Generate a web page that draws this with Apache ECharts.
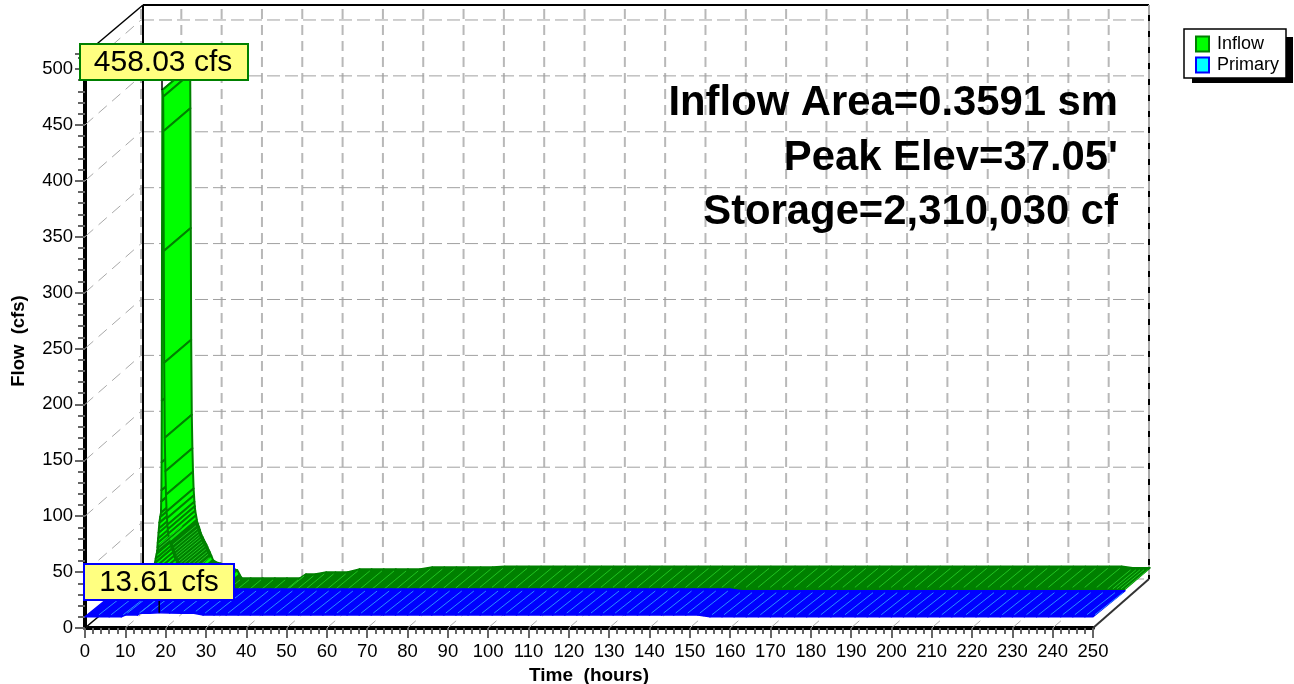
<!DOCTYPE html>
<html><head><meta charset="utf-8">
<style>html,body{margin:0;padding:0;background:#fff}#c{width:1294px;height:684px}</style>
<script src="https://cdn.jsdelivr.net/npm/echarts@6/dist/echarts.min.js"></script>
</head><body><div id="c"></div>
<script>
const xTicks=[0,10,20,30,40,50,60,70,80,90,100,110,120,130,140,150,160,170,180,190,200,210,220,230,240,250];
const yTicks=[0,50,100,150,200,250,300,350,400,450,500];
const inflowT=[0,4,8,8.6,9,9.3,9.6,9.9,10.1,10.3,10.4,10.5,10.6,10.7,10.8,10.9,11.0,11.2,11.4,11.45,11.5,11.55,11.6,11.66,11.75,11.95,
 12.0,12.1,12.2,12.35,12.5,12.65,12.8,12.9,13.0,13.1,13.2,13.4,13.6,
 13.9,14.2,14.4,14.6,14.8,15.1,15.4,15.7,16.0,16.3,16.6,16.9,17.2,17.6,
 18.5,19.5,20.5,21.5,22.5,23.6,24.2,
 24.8,27,30,33,36,39.2,
 40.7,43,
 45.7,48,51,
 54,57,60,63,66,69,
 72,75,78,81,84,87,
 90,93,96,99,102,105,108,111,114,117,
 120,123,126,129,132,135,138,141,144,147,
 150,153,156,159,162,165,168,171,174,177,
 180,183,186,189,192,195,198,201,204,207,
 210,213,216,219,222,225,228,231,234,237,
 240,243,
 245.7,247,248,249,250];
const inflowQ=[0,1,8,14,20,25,30,35,39,43,46,49,53,57,62,66,71,76,80,90,100,125,180,320,458.03,452,
 421,314,214,147,117,96,81,75,69,65,61,57,53,
 49.5,46.5,44,41.5,39.5,37.5,35,33,31,28.5,26,24,21,17,
 15,14,13,12,10,8,4,
 1,1,1,1,1,1,
 4.5,4.5,
 6.3,6.3,6.3,
 9,9,9,9,9,9,
 10.7,10.7,10.7,10.7,10.7,10.7,
 11.3,11.3,11.3,11.3,11.3,11.3,11.3,11.3,11.3,11.3,
 11.3,11.3,11.3,11.3,11.3,11.3,11.3,11.3,11.3,11.3,
 11.3,11.3,11.3,11.3,11.3,11.3,11.3,11.3,11.3,11.3,
 11.3,11.3,11.3,11.3,11.3,11.3,11.3,11.3,11.3,11.3,
 11.3,11.3,11.3,11.3,11.3,11.3,11.3,11.3,11.3,11.3,
 11.3,11.3,
 10,10,10,10,10];
const primaryT=[0,3,6,9,10,13,13.6,16,18.4,21,24,27,29.3,
 32,35,38,41,44,47,50,53,56,59,
 62,65,68,71,74,77,80,83,86,89,
 92,95,98,101,104,107,110,113,116,119,
 122,125,128,131,134,137,140,143,146,149,
 152,
 155,158,161,164,167,170,173,176,179,182,
 185,188,191,194,197,200,203,206,209,212,
 215,218,221,224,227,230,233,236,239,242,
 245,248,250];
const primaryQ=[10.1,10.1,10.1,10.1,11.6,11.6,13.15,13.3,13.61,13.4,13.3,13.2,11.6,
 11.6,11.6,11.6,11.6,11.6,11.6,11.6,11.6,11.6,11.6,
 11.6,11.6,11.6,11.6,11.6,11.6,11.6,11.6,11.6,11.6,
 11.6,11.6,11.6,11.6,11.6,11.6,11.6,11.6,11.6,11.6,
 11.6,11.6,11.6,11.6,11.6,11.6,11.6,11.6,11.6,11.6,
 11.6,
 10.1,10.1,10.1,10.1,10.1,10.1,10.1,10.1,10.1,10.1,
 10.1,10.1,10.1,10.1,10.1,10.1,10.1,10.1,10.1,10.1,
 10.1,10.1,10.1,10.1,10.1,10.1,10.1,10.1,10.1,10.1,
 10.1,10.1,10.1];
const peakInflow=[11.66,458.03], peakPrimary=[18.4,13.61];
const notes=["Inflow Area=0.3591 sm","Peak Elev=37.05'","Storage=2,310,030 cf"];
const seriesNames=["Inflow","Primary"];

const FONT='"Liberation Sans", Arial, sans-serif';
const GRID={left:85,right:201,top:54,bottom:56};
const BACK=[58,49];
const INF={f:[30,26],b:[57,49],dark:'#008000',bright:'#00ff00',hatch:'#1fc41f'};
const PRI={f:[0,0],b:[32,26],dark:'#0000ff',bright:'#00ffff',hatch:'#2a8cff'};
const Y_MAX=513.4;
const STEEP=4;

function segs(T,Q){const r=[];for(let i=0;i<T.length-1;i++)r.push([T[i],Q[i],T[i+1],Q[i+1]]);return r;}
function off(p,o){return [p[0]+o[0],p[1]-o[1]];}
const line=(a,b,st,z)=>({type:'line',shape:{x1:a[0],y1:a[1],x2:b[0],y2:b[1]},style:st,z2:z||0,silent:true});

function ribbon(S){return function(params,api){
  const p0=api.coord([api.value(0),api.value(1)]),p1=api.coord([api.value(2),api.value(3)]);
  const steep=Math.abs(p1[1]-p0[1])>STEEP;
  return {type:'polygon',shape:{points:[off(p0,S.f),off(p1,S.f),off(p1,S.b),off(p0,S.b)]},
    style:{fill:steep?S.bright:S.dark,stroke:S.dark,lineWidth:steep?2:1.5,lineJoin:'round'},silent:true};
};}
function hatch(S){return function(params,api){
  const p0=api.coord([api.value(0),api.value(1)]),p1=api.coord([api.value(2),api.value(3)]);
  if(Math.abs(p1[1]-p0[1])>STEEP)return null;
  const a=off(p1,[S.f[0]+2,S.f[1]+2]),b=off(p1,[S.b[0]-2,S.b[1]-2]);
  return line(a,b,{stroke:S.hatch,lineWidth:1});
};}
const custom=(name,data,fn,z,extra)=>Object.assign({type:'custom',name,data,renderItem:fn,clip:false,silent:true,z,encode:{x:0,y:1},animation:false},extra||{});
const seg4={x:[0,2],y:[1,3]};

const GX={stroke:'#b8b8b8',lineWidth:2,lineDash:[10,6]};
const GY={stroke:'#a0a0a0',lineWidth:1,lineDash:[13,5]};
const GD={stroke:'#a8a8a8',lineWidth:1,lineDash:[11,7]};
const TICK={color:'#666',width:2};

const option={
  animation:false,
  textStyle:{fontFamily:FONT},
  grid:Object.assign({containLabel:false,outerBoundsMode:'none'},GRID),
  xAxis:{type:'value',min:0,max:250,interval:10,name:'Time  (hours)',nameLocation:'middle',nameGap:35,
    nameTextStyle:{fontFamily:FONT,fontWeight:'bold',fontSize:19,color:'#000'},
    axisLine:{show:true,onZero:false,lineStyle:{color:'#000',width:4}},
    axisTick:{show:true,length:10,lineStyle:TICK},
    minorTick:{show:true,splitNumber:5,length:6,lineStyle:TICK},
    axisLabel:{fontFamily:FONT,fontSize:18.5,color:'#000',margin:14,showMinLabel:true,showMaxLabel:true,hideOverlap:false},
    splitLine:{show:false}},
  yAxis:{type:'value',min:0,max:Y_MAX,interval:50,name:'Flow  (cfs)',nameLocation:'middle',nameGap:57,nameRotate:90,
    nameTextStyle:{fontFamily:FONT,fontWeight:'bold',fontSize:18.5,color:'#000'},
    axisLine:{show:true,onZero:false,lineStyle:{color:'#000',width:4}},
    axisTick:{show:true,length:10,lineStyle:TICK},
    minorTick:{show:true,splitNumber:5,length:7,lineStyle:TICK},
    axisLabel:{fontFamily:FONT,fontSize:18.5,color:'#000',margin:12,padding:[3,0,0,0],showMaxLabel:false,hideOverlap:false,formatter:v=>yTicks.includes(v)?String(v):''},
    splitLine:{show:false}},
  legend:{show:true,orient:'vertical',left:1184,top:29,padding:[6,7,4,11],itemWidth:13,itemHeight:15,itemGap:3,z:20,
    data:seriesNames,icon:'rect',backgroundColor:'#fff',borderColor:'#000',borderWidth:1.5,
    textStyle:{fontFamily:FONT,fontSize:18,color:'#000',padding:[0,0,0,3]},selectedMode:false},
  series:[
    custom('xwall',xTicks.map(v=>[v,0]),(p,api)=>{
      const t=api.coord([api.value(0),0]),top=api.coord([api.value(0),Y_MAX]);
      return {type:'group',children:[
        line(off(t,[56,49]),off(top,[56,49]),GX),
        line(t,off(t,[56,49]),GD)]};
    },1),
    custom('ywall',yTicks.map(v=>[0,v]),(p,api)=>{
      const a=api.coord([0,api.value(1)]),b=api.coord([250,api.value(1)]);
      return {type:'group',children:[
        line(off(a,[56,49]),off(b,[56,49]),GY),
        line(a,off(a,[56,49]),GD)]};
    },1),
    custom('frame',[[0,0]],(p,api)=>{
      const o=api.coord([0,0]),tl=api.coord([0,Y_MAX]),br=api.coord([250,0]),tr=api.coord([250,Y_MAX]);
      const K={stroke:'#000',lineWidth:2};
      return {type:'group',children:[
        line(off(tl,BACK),[tr[0]+56,tr[1]-49],K),
        line(off(tl,BACK),off(o,BACK),K),
        line([tr[0]+56,tr[1]-49],[br[0]+56,br[1]-49],K),
        line([tr[0]+56,tr[1]-49],[br[0]+56,br[1]-49],{stroke:'#aaa',lineWidth:2,lineDash:[10,6]}),
        line(tl,off(tl,BACK),{stroke:'#000',lineWidth:1.5}),
        line(o,off(o,BACK),{stroke:'#000',lineWidth:1.5}),
        line(br,[br[0]+56,br[1]-49],{stroke:'#333',lineWidth:2})]};
    },1),
    custom(seriesNames[0],segs(inflowT,inflowQ),ribbon(INF),3,{encode:seg4,itemStyle:{color:INF.bright,borderColor:INF.dark,borderWidth:2}}),
    custom('inflowHatch',segs(inflowT,inflowQ),hatch(INF),4,{encode:seg4}),
    custom(seriesNames[1],segs(primaryT,primaryQ),ribbon(PRI),5,{encode:seg4,itemStyle:{color:PRI.bright,borderColor:PRI.dark,borderWidth:2}}),
    custom('primaryHatch',segs(primaryT,primaryQ),hatch(PRI),6,{encode:seg4}),
    custom('peaks',[[peakInflow[0],peakInflow[1],INF.f[1],INF.f[0]],[peakPrimary[0],peakPrimary[1],PRI.f[1],PRI.f[0]]],(p,api)=>{
      const c=off(api.coord([api.value(0),api.value(1)]),[api.value(3),api.value(2)]);
      return line([c[0],c[1]-14],[c[0],c[1]],{stroke:'#000',lineWidth:1.5});
    },7)
  ],
  graphic:{elements:[
    {type:'rect',z:0,shape:{x:1192,y:37,width:101,height:46},style:{fill:'#000'}},
    ...notes.map((s,i)=>({type:'text',z:50,style:{text:s,x:1118,y:[103,158,212][i],textAlign:'right',textVerticalAlign:'middle',font:'bold 41.8px '+FONT,fill:'#000'}})),
    {type:'rect',z:60,shape:{x:80,y:44,width:168,height:36},style:{fill:'#ffff80',stroke:'#008000',lineWidth:2}},
    {type:'text',z:61,style:{text:'458.03 cfs',x:163,y:63,textAlign:'center',textVerticalAlign:'middle',font:'30px '+FONT,fill:'#000'}},
    {type:'rect',z:60,shape:{x:84,y:564,width:150,height:36},style:{fill:'#ffff80',stroke:'#0000ff',lineWidth:2}},
    {type:'text',z:61,style:{text:'13.61 cfs',x:159,y:583,textAlign:'center',textVerticalAlign:'middle',font:'29.5px '+FONT,fill:'#000'}}
  ]}
};
const chart=echarts.init(document.getElementById('c'),null,{renderer:'canvas',width:1294,height:684});
chart.setOption(option);
</script></body></html>
